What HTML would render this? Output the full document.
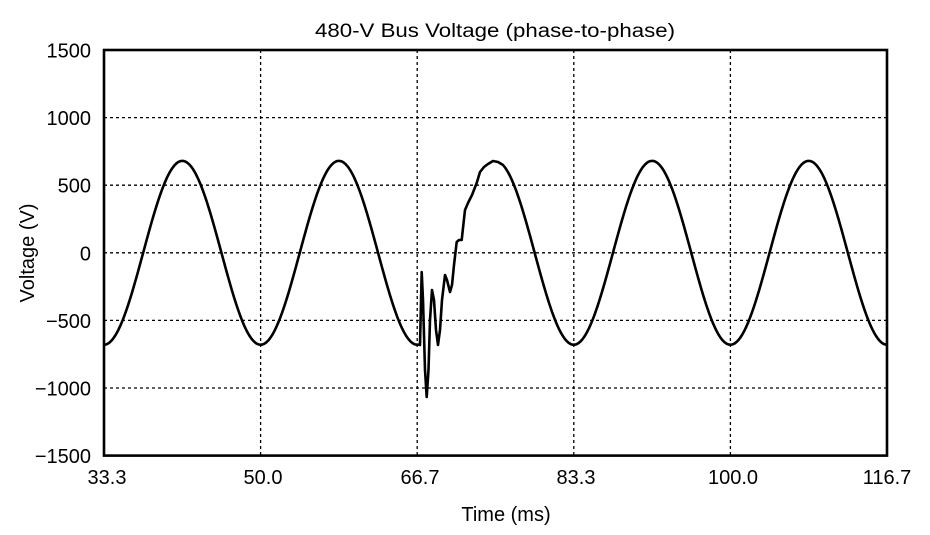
<!DOCTYPE html>
<html><head><meta charset="utf-8"><style>html,body{margin:0;padding:0;background:#fff}svg{display:block}</style></head>
<body>
<svg id="s" width="930" height="535" xmlns="http://www.w3.org/2000/svg" font-family="Liberation Sans, Arial, sans-serif" font-size="20">
<g stroke="#000" stroke-width="1.3" stroke-dasharray="3,3">
<line x1="260.6" y1="50" x2="260.6" y2="456"/><line x1="417.2" y1="50" x2="417.2" y2="456"/>
<line x1="573.8" y1="50" x2="573.8" y2="456"/><line x1="730.4" y1="50" x2="730.4" y2="456"/>
<line x1="104" y1="117.6" x2="887" y2="117.6"/><line x1="104" y1="185.2" x2="887" y2="185.2"/>
<line x1="104" y1="252.8" x2="887" y2="252.8"/><line x1="104" y1="320.4" x2="887" y2="320.4"/>
<line x1="104" y1="388" x2="887" y2="388"/>
</g>
<path id="p" fill="none" stroke="#000" stroke-width="2.6" stroke-linejoin="round"/>
<rect x="104" y="50" width="783" height="405.6" fill="none" stroke="#000" stroke-width="2.6"/>
<text x="495" y="37" font-size="19" text-anchor="middle" textLength="360" lengthAdjust="spacingAndGlyphs">480-V Bus Voltage (phase-to-phase)</text>
<g text-anchor="end">
<text x="91" y="57.5">1500</text><text x="91" y="125">1000</text><text x="91" y="192.7">500</text>
<text x="91" y="260.3">0</text><text x="91" y="327.9">−500</text><text x="91" y="395.5">−1000</text><text x="91" y="463">−1500</text>
</g>
<g text-anchor="middle">
<text x="107" y="484">33.3</text><text x="263" y="484">50.0</text><text x="420" y="484">66.7</text>
<text x="576" y="484">83.3</text><text x="733" y="484">100.0</text><text x="887" y="484">116.7</text>
<text x="506" y="521">Time (ms)</text>
<text transform="translate(34,253) rotate(-90)">Voltage (V)</text>
</g>
</svg>
<script>
var d=[];function y(v){return 252.8-v*67.6/500}
function sv(x){var t=(x-104)/156.6;return -680*Math.cos(2*Math.PI*t);}
for(var x=104;x<=419;x+=1)d.push([x,y(sv(x))]);
var tr=[[420,345],[421.7,272],[423,300],[425,370],[426.7,397],[428.5,370],[430,320],[432,290],[434,300],[436,330],[438,345],[440,330],[442,300],[445,275],[447,280],[450,292],[452,285],[454,265],[456.7,242],[459,240],[461.7,240],[463,228],[465,210],[468,203],[472,195],[476.7,183],[480,172],[484,167],[488,164],[493,161],[498,162],[503,165]];
d=d.concat(tr);
for(var x=505;x<=887;x+=1)d.push([x,y(sv(x))]);
document.getElementById('p').setAttribute('d','M'+d.map(function(p){return p[0].toFixed(1)+','+p[1].toFixed(1)}).join('L'));
</script>
</body></html>
